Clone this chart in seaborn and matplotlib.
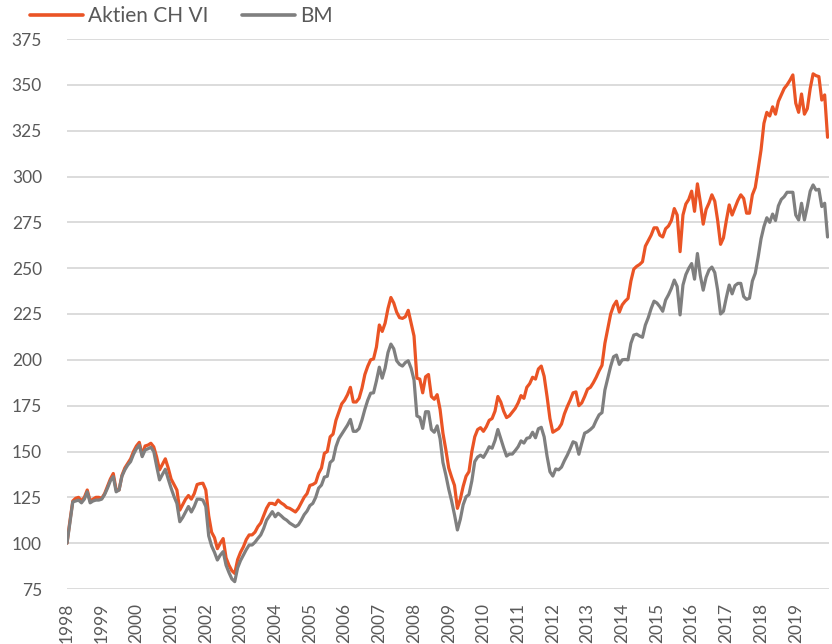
import matplotlib
matplotlib.use("Agg")
import matplotlib.pyplot as plt
import seaborn as sns
import pandas as pd
from matplotlib.lines import Line2D

# ---------------- data (monthly, starting Jan 1998) ----------------
series_names = ["Aktien CH VI", "BM"]

aktien = [
    100, 112, 123, 124.5, 125, 123, 125, 129, 123, 124, 125, 125,
    124.5, 127, 131, 135, 138, 129, 129, 137, 141, 143.5, 146, 150,
    153, 155, 148, 153, 153.5, 154.5, 152.5, 147, 140, 143, 146, 141,
    135, 132, 129, 118, 121, 124, 126, 124, 127, 132, 132.5, 132.7,
    129, 115, 106, 103, 97, 100, 102.5, 92, 88, 85, 83.5, 91,
    95, 98, 102, 104.5, 104.5, 106, 109, 111, 115, 119, 121.7, 121.7,
    121, 123.5, 122, 121, 119.5, 119, 118, 117, 119, 122, 125, 127,
    131.5, 132, 133, 138, 141, 149, 150, 158, 159.5, 167, 171.5, 176,
    178, 181, 185, 177, 177, 179, 184.5, 192, 196.5, 200, 200.5, 207,
    219, 215.5, 220, 228, 234, 231, 226, 223, 222.6, 223.5, 227, 220,
    213, 190, 189.5, 182, 190.8, 192, 180, 178.5, 181, 173, 160, 151,
    141, 136, 131.5, 119, 124, 131, 136.5, 139, 150, 158, 162, 163,
    161, 163.5, 167, 168, 172, 180, 177, 172, 168.5, 169.5, 171.5, 173.5,
    176.5, 180.5, 179, 185, 187, 190.5, 189.5, 195, 196.6, 191, 180, 168,
    160.5, 161.5, 162.5, 165, 170.5, 174.5, 178, 182, 182.5, 175, 176.5, 180,
    184, 185, 187.5, 190.5, 194, 197, 209, 217, 225, 229.5, 232, 226,
    230, 232, 233.5, 243, 249.5, 251, 252, 253.5, 262, 265, 268, 272,
    272, 268, 267, 271.5, 273, 276, 282.5, 279, 259, 279, 285, 287.5,
    292, 281, 296, 286, 274, 282, 285.5, 290, 286.5, 276, 263, 266.5,
    276, 284.5, 279, 283, 287, 290, 288, 280, 280, 290, 294, 304,
    314.5, 329, 335, 333, 338, 334, 341, 344.5, 348, 350, 352.5, 355.4,
    340, 335, 345, 334, 337, 348, 356, 355, 354.5, 341.7, 344.5, 321.4,
]

bm = [
    100, 111, 122.5, 123, 123.5, 122, 124, 128, 122, 123, 123.5, 123.5,
    124, 126.5, 130, 134, 136.3, 128, 129, 136.5, 140, 142.6, 144.5, 148.5,
    151.5, 153.5, 147.2, 150.8, 151.5, 152.3, 150, 142, 134.5, 137.5, 140.3, 135,
    130, 125.5, 121.7, 111.7, 114, 117, 120, 117, 120, 124, 124, 123.5,
    120, 104, 98.5, 95, 90.8, 93.5, 95.4, 88, 84, 80.5, 79, 86.5,
    90.5, 93.5, 96.5, 99, 99, 100.5, 102.6, 104.5, 108, 112.5, 114.8, 117.2,
    114.4, 116.3, 115, 113.5, 112.5, 111, 110, 109, 110, 112.5, 115.5, 117.5,
    120.5, 121.7, 125, 130, 131.7, 136, 136.5, 144, 145.4, 152.6, 157, 159.5,
    162, 164.4, 167.5, 161, 161, 162.5, 167.2, 173, 178, 181.8, 182, 188.5,
    196, 190, 195.5, 204, 208.6, 206, 199.5, 197.5, 196.6, 198.5, 199.5, 195.4,
    189, 169.4, 168.6, 162.6, 171.7, 171.7, 162, 160.5, 164, 157, 144, 137.2,
    129.5, 123, 115.5, 107.2, 113, 121, 125.3, 126.5, 134, 144.5, 147, 148,
    146.8, 149.5, 152.6, 151.8, 156, 162, 157, 152, 147.5, 148.6, 148.6, 150.5,
    152.6, 155.8, 154.6, 157.2, 157.6, 160.5, 157.5, 162.4, 163.2, 158, 147.5, 139,
    136.6, 140.5, 140, 141.5, 145, 148, 151.5, 155.3, 154.6, 148.5, 154.5, 160,
    160.8, 162, 163.5, 167, 170, 171.2, 183.5, 190, 196.5, 201.7, 202.6, 197.5,
    200, 200.2, 200, 209, 213.5, 214, 213, 212.3, 219, 223, 228, 232,
    231, 229, 226.5, 232.6, 235.5, 239, 243.5, 240, 224.5, 240.8, 246.5, 249.9,
    252.5, 244, 258, 246, 238, 245, 249, 250.6, 247.6, 238, 225, 226.5,
    234, 240.8, 236, 240.5, 241.7, 241.7, 234.5, 233, 233.6, 243, 247.2, 256,
    266, 272.7, 277.5, 275, 279.5, 276, 284, 287.5, 289, 291.4, 291.4, 291.4,
    279, 276.3, 285.4, 276.3, 283.6, 292, 295.4, 292.6, 293, 283.6, 285.4, 267,
]

years = [str(y) for y in range(1998, 2020)]
y_ticks = list(range(75, 376, 25))

colors = ["#EA5425", "#7F7F7F"]

# ---------------- build frame ----------------
months = list(range(len(aktien)))
df = pd.DataFrame({
    "month": months + months,
    "value": aktien + bm,
    "series": [series_names[0]] * len(aktien) + [series_names[1]] * len(bm),
})

sns.set_theme(style="white")
plt.rcParams["font.family"] = ["Lato", "DejaVu Sans"]

fig = plt.figure(figsize=(8.32, 6.44), dpi=100)
ax = fig.add_axes([67 / 832, 1 - 589 / 644, (829 - 67) / 832, (589 - 39) / 644])

sns.lineplot(data=df, x="month", y="value", hue="series",
             palette=colors, hue_order=series_names,
             linewidth=2.3, ax=ax, legend=False)

ax.set_xlim(0, len(aktien) - 0.5)
ax.set_ylim(75, 375)
ax.set_yticks(y_ticks)
ax.set_yticklabels([str(v) for v in y_ticks])
ax.set_xticks([12 * i for i in range(len(years))])
ax.set_xticklabels(years, rotation=90)
ax.grid(axis="y", color="#D9D9D9", linewidth=1.3)
ax.grid(axis="x", visible=False)
ax.set_axisbelow(True)
for s in ax.spines.values():
    s.set_visible(False)
ax.set_xlabel("")
ax.set_ylabel("")
ax.tick_params(axis="y", length=0, labelsize=12.5, colors="#595959", pad=18)
ax.tick_params(axis="x", length=0, labelsize=12.5, colors="#595959", pad=10)

handles = [Line2D([], [], color=c, linewidth=2.6) for c in colors]
fig.legend(handles, series_names, loc="upper left",
           bbox_to_anchor=(30 / 832, 1 - 6 / 644), ncol=2, frameon=False,
           fontsize=15, handlelength=2.55, handletextpad=0.25,
           columnspacing=1.6, borderpad=0, borderaxespad=0,
           labelcolor="#595959")

fig.savefig("out.png", dpi=100)
